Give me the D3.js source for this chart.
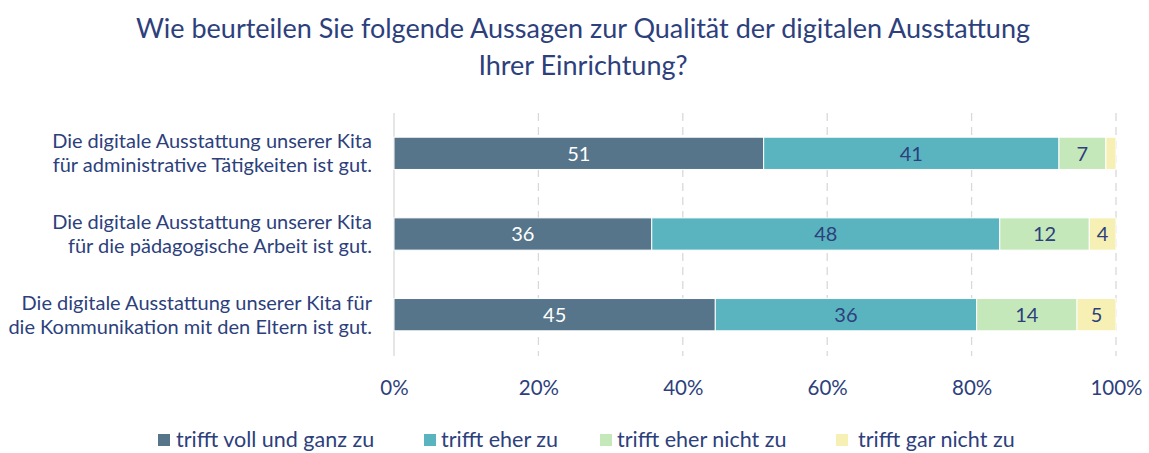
<!DOCTYPE html>
<html lang="de">
<head>
<meta charset="UTF-8">
<title>Digitale Ausstattung</title>
<script src="https://d3js.org/d3.v7.min.js"></script>
<style>
  body { margin: 0; background: #fff; }
  svg text { font-family: Lato, "Open Sans", sans-serif; fill: #2D3F7C; }
</style>
</head>
<body>
<svg id="chart" width="1149" height="453"></svg>
<script>
// data
const statements = [
  ["Die digitale Ausstattung unserer Kita", "für administrative Tätigkeiten ist gut."],
  ["Die digitale Ausstattung unserer Kita", "für die pädagogische Arbeit ist gut."],
  ["Die digitale Ausstattung unserer Kita für", "die Kommunikation mit den Eltern ist gut."]
];
const answers = ["trifft voll und ganz zu", "trifft eher zu", "trifft eher nicht zu", "trifft gar nicht zu"];
const vollUndGanz = [51.2, 35.7, 44.5];
const eher = [40.9, 48.2, 36.2];
const eherNicht = [6.5, 12.4, 13.9];
const garNicht = [1.4, 3.7, 5.4];
const xTicks = [0, 20, 40, 60, 80, 100];

const colors = ["#56758A", "#5AB4BF", "#C5E8BA", "#F6F0B4"];
const labelColors = ["#ffffff", "#2D3F7C", "#2D3F7C", "#2D3F7C"];

const series = [vollUndGanz, eher, eherNicht, garNicht];
const rows = statements.map((s, i) => {
  const r = { idx: i };
  answers.forEach((a, k) => r[a] = series[k][i]);
  return r;
});

const svg = d3.select("#chart");

// title
svg.append("text").attr("x", 583).attr("y", 38).attr("text-anchor", "middle")
  .style("font-size", "27px").text("Wie beurteilen Sie folgende Aussagen zur Qualität der digitalen Ausstattung");
svg.append("text").attr("x", 583).attr("y", 75).attr("text-anchor", "middle")
  .style("font-size", "27px").text("Ihrer Einrichtung?");

const x = d3.scaleLinear().domain([0, 100]).range([394, 1116]);
const y = d3.scaleBand().domain(rows.map(d => d.idx)).range([113, 355]).paddingInner(0.6).paddingOuter(0.3);

// grid lines
svg.append("g").selectAll("line").data(xTicks.slice(1)).join("line")
  .attr("x1", d => x(d)).attr("x2", d => x(d))
  .attr("y1", 113).attr("y2", 356)
  .attr("stroke", "#D9D9D9").attr("stroke-width", 1.3).attr("stroke-dasharray", "8,6");
svg.append("line").attr("x1", x(0)).attr("x2", x(0)).attr("y1", 113).attr("y2", 356)
  .attr("stroke", "#D9D9D9").attr("stroke-width", 1.3);

// x axis labels
const xAxis = d3.axisBottom(x).tickValues(xTicks).tickFormat(d => d + "%").tickSize(0).tickPadding(0);
const gx = svg.append("g").attr("transform", "translate(0,395)").call(xAxis);
gx.select(".domain").remove();
gx.selectAll("text").attr("dy", 0).style("font-size", "20.5px").style("font-family", null);

// stacked bars
const stack = d3.stack().keys(answers)(rows);
const layers = svg.append("g").selectAll("g").data(stack).join("g")
  .attr("fill", (d, k) => colors[k]);
layers.selectAll("rect").data(d => d).join("rect")
  .attr("x", d => x(d[0]))
  .attr("y", d => y(d.data.idx))
  .attr("width", d => x(d[1]) - x(d[0]))
  .attr("height", y.bandwidth())
  .attr("stroke", "#ffffff").attr("stroke-width", 1);

// value labels
layers.each(function(layer, k) {
  d3.select(this).selectAll("text").data(layer.filter(d => d[1] - d[0] >= 2)).join("text")
    .attr("x", d => (x(d[0]) + x(d[1])) / 2)
    .attr("y", d => y(d.data.idx) + y.bandwidth() / 2)
    .attr("dy", "0.36em")
    .attr("text-anchor", "middle")
    .style("font-size", "20px")
    .style("fill", labelColors[k])
    .text(d => Math.round(d[1] - d[0]));
});

// category labels
const cat = svg.append("g").selectAll("text").data(rows).join("text")
  .attr("text-anchor", "end")
  .style("font-size", "20px");
cat.each(function(d) {
  const t = d3.select(this);
  const cy = y(d.idx) + y.bandwidth() / 2;
  statements[d.idx].forEach((line, j) => {
    t.append("tspan").attr("x", 372).attr("y", cy - 5 + j * 24).text(line);
  });
});

// legend
const legendX = [158, 424, 600, 836];
const legendTextX = [176, 441, 617, 858];
const lg = svg.append("g").selectAll("g").data(answers).join("g");
lg.append("rect").attr("x", (d, k) => legendX[k]).attr("y", 434).attr("width", 12).attr("height", 12)
  .attr("fill", (d, k) => colors[k]);
lg.append("text").attr("x", (d, k) => legendTextX[k]).attr("y", 447)
  .style("font-size", "21.5px").text(d => d);
</script>
</body>
</html>
